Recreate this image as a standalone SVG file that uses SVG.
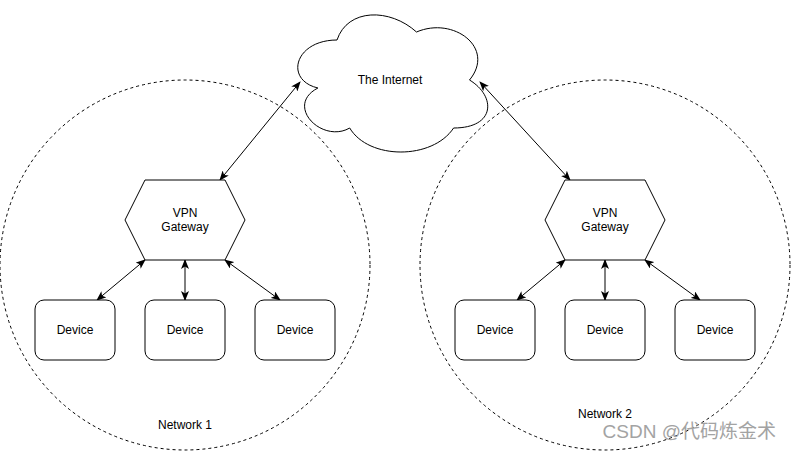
<svg xmlns="http://www.w3.org/2000/svg" width="791" height="451" viewBox="0 0 791 451">
<style>
.net{fill:none;stroke:#000;stroke-width:1;stroke-dasharray:3 3}
.node{fill:#fff;stroke:#000;stroke-width:1}
.t{font-family:"Liberation Sans",Arial,sans-serif;font-size:12px;fill:#000;text-anchor:middle}
.c{fill:none;stroke:#000;stroke-width:1;marker-start:url(#ah);marker-end:url(#ah)}
.wm{font-family:"Liberation Sans","Noto Sans CJK SC",sans-serif;font-size:19px;fill:#a3a3a3;text-anchor:end}
</style>
<defs>
<marker id="ah" markerUnits="userSpaceOnUse" viewBox="0 0 10 8" refX="9" refY="4" markerWidth="10" markerHeight="8" orient="auto-start-reverse">
<path d="M0,0 L10,4 L0,8 L2.5,4 Z" fill="#000"/>
</marker>
</defs>
<rect width="791" height="451" fill="#fff"/>
<g id="network1">
<circle class="net" cx="185" cy="265" r="185"/>
<text class="t" x="185" y="429">Network 1</text>
</g>
<g id="network2">
<circle class="net" cx="605" cy="265" r="185"/>
<text class="t" x="605" y="418">Network 2</text>
</g>
<g id="connectors">
<line class="c" x1="220" y1="180" x2="300" y2="82"/>
<line class="c" x1="570" y1="180" x2="480" y2="82"/>
<line class="c" x1="145" y1="260" x2="97" y2="300"/>
<line class="c" x1="185" y1="260" x2="185" y2="300"/>
<line class="c" x1="225" y1="260" x2="280" y2="300"/>
<line class="c" x1="565" y1="260" x2="517" y2="300"/>
<line class="c" x1="605" y1="260" x2="605" y2="300"/>
<line class="c" x1="645" y1="260" x2="700" y2="300"/>
</g>
<g id="internet">
<path class="node" d="M337,40 C294.6,40 284,80 317.9,88 C284,105.6 322.2,144 349.7,128 C368.8,160 432.4,160 453.6,128 C496,128 496,96 469.5,80 C496,48 453.6,16 416.5,32 C390,8 347.6,8 337,40 Z"/>
<text class="t" x="390" y="84">The Internet</text>
</g>
<g id="gateway1">
<polygon class="node" points="145,180 225,180 245,220 225,260 145,260 125,220"/>
<text class="t" x="185" y="217">VPN</text>
<text class="t" x="185" y="231">Gateway</text>
</g>
<g id="gateway2">
<polygon class="node" points="565,180 645,180 665,220 645,260 565,260 545,220"/>
<text class="t" x="605" y="217">VPN</text>
<text class="t" x="605" y="231">Gateway</text>
</g>
<g id="device1a"><rect class="node" x="35" y="300" width="80" height="60" rx="9"/><text class="t" x="75" y="334">Device</text></g>
<g id="device1b"><rect class="node" x="145" y="300" width="80" height="60" rx="9"/><text class="t" x="185" y="334">Device</text></g>
<g id="device1c"><rect class="node" x="255" y="300" width="80" height="60" rx="9"/><text class="t" x="295" y="334">Device</text></g>
<g id="device2a"><rect class="node" x="455" y="300" width="80" height="60" rx="9"/><text class="t" x="495" y="334">Device</text></g>
<g id="device2b"><rect class="node" x="565" y="300" width="80" height="60" rx="9"/><text class="t" x="605" y="334">Device</text></g>
<g id="device2c"><rect class="node" x="675" y="300" width="80" height="60" rx="9"/><text class="t" x="715" y="334">Device</text></g>
<text class="wm" x="776" y="438">CSDN @代码炼金术</text>
</svg>
